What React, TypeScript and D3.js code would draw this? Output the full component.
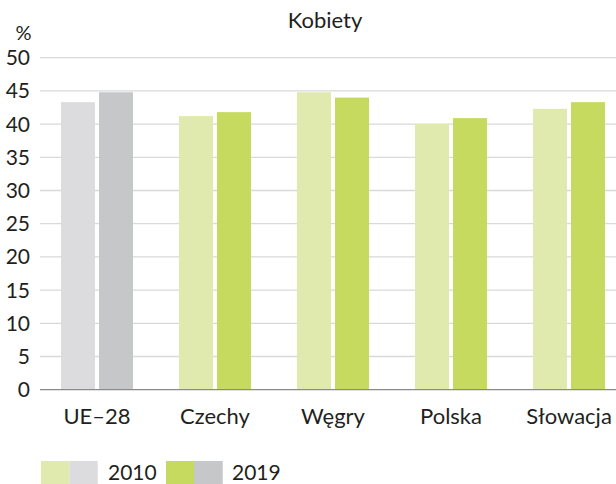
import React from "react";
import * as d3 from "d3";

const categories = ["UE–28", "Czechy", "Węgry", "Polska", "Słowacja"];
const years = ["2010", "2019"];
const values2010 = [43.3, 41.2, 44.8, 40.0, 42.3];
const values2019 = [44.8, 41.8, 44.0, 40.9, 43.3];
const yTicks = [0, 5, 10, 15, 20, 25, 30, 35, 40, 45, 50];
const title = "Kobiety";
const unit = "%";

const W = 616;
const H = 484;
const FONT = "Lato, 'Open Sans', sans-serif";
const TXT = "#231f20";
const greenLight = "#e0eaae";
const green = "#c5da5f";
const greyLight = "#dcdcde";
const grey = "#c6c7c9";

export default function App() {
  const y = d3.scaleLinear().domain([0, 50]).range([389.7, 57.7]);
  const x0 = d3.scaleBand<string>().domain(categories).range([38, 628]).padding(0);
  const x1 = d3.scaleBand<string>().domain(years).range([0, 72]).paddingInner(0.105).paddingOuter(0);
  const groupOffset = (x0.bandwidth() - 72) / 2;
  const series = [values2010, values2019];

  return (
    <svg width={W} height={H} style={{ position: "absolute", left: 0, top: 0, display: "block" }}>
      <rect width={W} height={H} fill="#fff" />
      <text x={325} y={28} textAnchor="middle" fontFamily={FONT} fontSize={22} fill={TXT}>{title}</text>
      <text x={23.5} y={40} textAnchor="middle" fontFamily={FONT} fontSize={20} fill={TXT}>{unit}</text>
      {yTicks.map((t) => (
        <g key={t}>
          {t > 0 && <line x1={40} x2={W} y1={y(t)} y2={y(t)} stroke="#d9d9d9" strokeWidth={1.3} />}
          <text x={30} y={y(t)} dy="0.36em" textAnchor="end" fontFamily={FONT} fontSize={21} fill={TXT}>{t}</text>
        </g>
      ))}
      {categories.map((c, i) =>
        years.map((yr, j) => {
          const v = series[j][i];
          const isEU = i === 0;
          const fill = isEU ? (j === 0 ? greyLight : grey) : (j === 0 ? greenLight : green);
          return (
            <rect
              key={c + yr}
              x={(x0(c) as number) + groupOffset + (x1(yr) as number)}
              y={y(v)}
              width={x1.bandwidth()}
              height={y(0) - y(v)}
              fill={fill}
            />
          );
        })
      )}
      <line x1={40} x2={W} y1={y(0)} y2={y(0)} stroke="#8a8a8a" strokeWidth={1.3} />
      {categories.map((c) => (
        <text key={c} x={(x0(c) as number) + x0.bandwidth() / 2} y={424} textAnchor="middle" fontFamily={FONT} fontSize={22} fill={TXT}>{c}</text>
      ))}
      <rect x={41} y={461} width={28.3} height={23} fill={greenLight} />
      <rect x={69.3} y={461} width={28.4} height={23} fill={greyLight} />
      <text x={108} y={480} fontFamily={FONT} fontSize={21} fill={TXT}>{years[0]}</text>
      <rect x={166} y={461} width={28} height={23} fill={green} />
      <rect x={194} y={461} width={28.7} height={23} fill={grey} />
      <text x={232} y={480} fontFamily={FONT} fontSize={21} fill={TXT}>{years[1]}</text>
    </svg>
  );
}
